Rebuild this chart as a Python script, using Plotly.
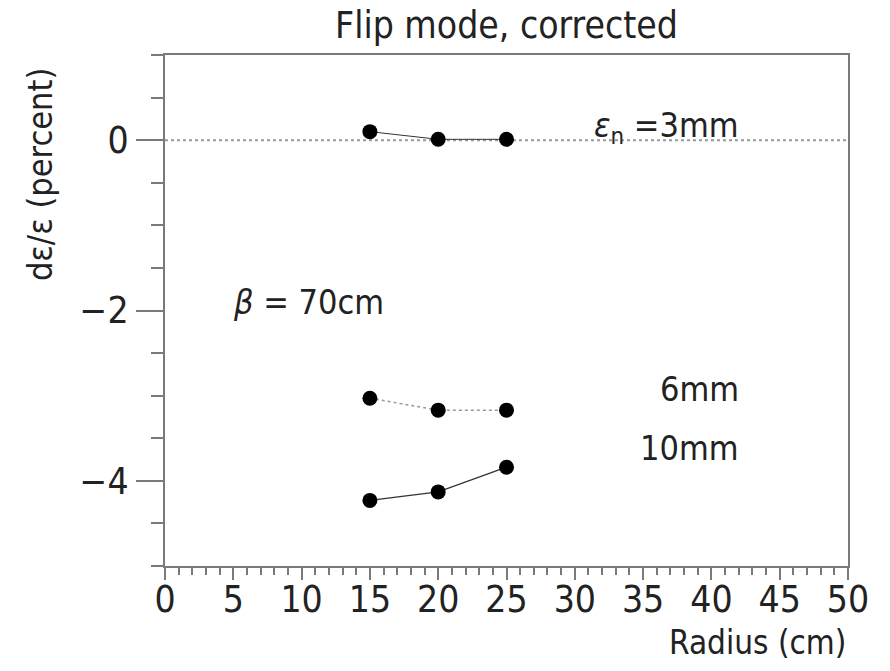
import plotly.graph_objects as go

radius = [15, 20, 25]
eps_3mm = [0.10, 0.01, 0.01]
eps_6mm = [-3.03, -3.17, -3.17]
eps_10mm = [-4.23, -4.13, -3.84]

FONT = "Liberation Sans Narrow, DejaVu Sans Condensed, Liberation Sans, Arial"
AX = "#7a7a7a"

fig = go.Figure()
# zero reference line
fig.add_trace(go.Scatter(x=[0, 50], y=[0, 0], mode="lines",
                         line=dict(color="#999999", width=2, dash="dot"),
                         hoverinfo="skip", showlegend=False))
fig.add_trace(go.Scatter(x=radius, y=eps_3mm, mode="lines+markers",
                         line=dict(color="#333333", width=1),
                         marker=dict(color="black", size=15), showlegend=False))
fig.add_trace(go.Scatter(x=radius, y=eps_6mm, mode="lines+markers",
                         line=dict(color="#999999", width=1.5, dash="dot"),
                         marker=dict(color="black", size=15), showlegend=False))
fig.add_trace(go.Scatter(x=radius, y=eps_10mm, mode="lines+markers",
                         line=dict(color="#333333", width=1.3),
                         marker=dict(color="black", size=15), showlegend=False))

axis_common = dict(showgrid=False, zeroline=False, showline=True, linecolor=AX,
                   linewidth=2, mirror=True, ticks="outside", tickcolor=AX,
                   tickfont=dict(family=FONT, size=37, color="#222"))

fig.update_xaxes(range=[0, 50], tickmode="linear", tick0=0, dtick=5, ticklen=12, tickwidth=2,
                 ticklabelstandoff=-12,
                 minor=dict(ticks="outside", dtick=1, ticklen=7, tickcolor=AX, tickwidth=1.5),
                 **axis_common)
fig.update_yaxes(range=[-5, 1], tickvals=[0, -2, -4], ticktext=["0", "\u22122", "\u22124"],
                 ticklen=27, tickwidth=2,
                 minor=dict(ticks="outside", dtick=0.5, tick0=0, ticklen=12, tickcolor=AX, tickwidth=2),
                 **axis_common)

ann_font = dict(family=FONT, size=34, color="#222")
fig.add_annotation(x=1, y=0, xref="paper", yref="paper", text="Radius (cm)", showarrow=False,
                   xanchor="right", yanchor="middle", yshift=-76, font=dict(family=FONT, size=33, color="#222"))
fig.add_annotation(x=-0.183, y=0.765, xref="paper", yref="paper", text="d\u03b5/\u03b5 (percent)",
                   showarrow=False, textangle=-90, xanchor="center", yanchor="middle",
                   font=ann_font)
fig.add_annotation(xref="paper", yref="paper", x=0.5, y=1, yshift=30,
                   text="Flip mode, corrected", showarrow=False, xanchor="center",
                   yanchor="middle", font=dict(family=FONT, size=37, color="#222"))
fig.add_annotation(x=42.2, y=0.15, text="<i>\u03b5</i><sub>n</sub> =3mm", showarrow=False,
                   xanchor="right", yanchor="middle", font=ann_font)
fig.add_annotation(x=42.2, y=-2.92, text="6mm", showarrow=False,
                   xanchor="right", yanchor="middle", font=ann_font)
fig.add_annotation(x=42.2, y=-3.62, text="10mm", showarrow=False,
                   xanchor="right", yanchor="middle", font=ann_font)
fig.add_annotation(x=4.8, y=-1.9, text="<i>\u03b2</i> = 70cm", showarrow=False,
                   xanchor="left", yanchor="middle", font=ann_font)

fig.update_layout(width=890, height=671, margin=dict(l=165, r=42, t=55, b=105),
                  plot_bgcolor="white", paper_bgcolor="white", showlegend=False)
fig.write_html("out.html")
